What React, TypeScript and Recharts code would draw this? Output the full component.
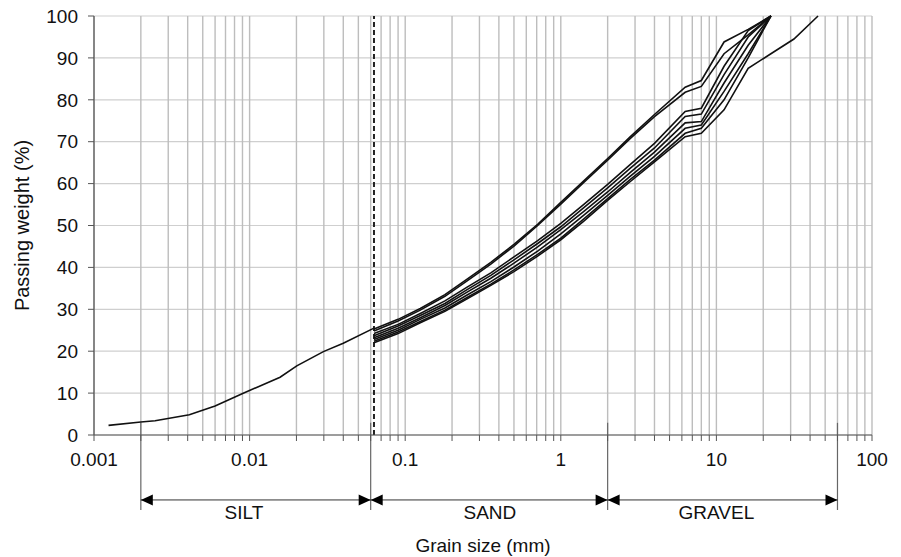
import React from 'react';
import { ComposedChart, Line, XAxis, YAxis, CartesianGrid, ReferenceLine, ReferenceDot } from 'recharts';

// ---- axis definitions ----
const decades = [0.001, 0.01, 0.1, 1, 10];
const multipliers = [1, 2, 3, 4, 5, 6, 7, 8, 9];
const xMax = 100;
const decadeLabels = ['0.001', '0.01', '0.1', '1', '10', '100'];
const yMajorTicks = [0, 10, 20, 30, 40, 50, 60, 70, 80, 90, 100];
const yMinorTicks = [0, 2, 4, 6, 8, 10, 12, 14, 16, 18, 20, 22, 24, 26, 28, 30, 32, 34, 36, 38, 40, 42, 44, 46, 48, 50, 52, 54, 56, 58, 60, 62, 64, 66, 68, 70, 72, 74, 76, 78, 80, 82, 84, 86, 88, 90, 92, 94, 96, 98, 100];

// ---- silt (hydrometer) curve ----
const siltSizes = [0.00124, 0.002, 0.00247, 0.0041, 0.006, 0.0091, 0.0157, 0.0201, 0.0298, 0.04, 0.063];
const siltPassing = [2.3, 3.1, 3.4, 4.85, 6.9, 9.95, 13.8, 16.5, 19.9, 21.9, 25.5];

// ---- sieve curves ----
const sieveSizes = [0.063, 0.09, 0.125, 0.18, 0.25, 0.355, 0.5, 0.71, 1, 1.4, 2, 2.8, 4, 6.3, 8, 11.2, 16, 22.4];
const coarseSizes = [0.063, 0.09, 0.125, 0.18, 0.25, 0.355, 0.5, 0.71, 1, 1.4, 2, 2.8, 4, 6.3, 8, 11.2, 16, 22.4, 31.5, 45];

const sampleU1 = [25.3, 27.6, 30.2, 33.5, 37.2, 41.2, 45.5, 50.3, 55.5, 60.6, 66, 71.2, 76.5, 83, 84.6, 93.8, 96.8, 100];
const sampleU2 = [24.8, 27.2, 29.8, 33.1, 36.8, 40.8, 45.1, 50, 55.1, 60.2, 65.6, 70.8, 76, 81.8, 83.2, 91, 95.5, 100];
const sampleL1 = [24.2, 26.4, 29, 32, 35.3, 38.7, 42.5, 46.4, 50.5, 55, 59.8, 64.6, 69.6, 77.2, 78, 88, 96.5, 100];
const sampleL2 = [23.7, 26, 28.5, 31.4, 34.7, 38.1, 41.8, 45.7, 49.7, 54.2, 59, 63.7, 68.5, 76, 76.6, 86, 95, 100];
const sampleL3 = [23.2, 25.5, 28, 30.9, 34.1, 37.4, 41, 44.9, 49, 53.3, 58, 62.7, 67.5, 74.5, 74.8, 84, 93, 100];
const sampleL4 = [22.8, 25, 27.6, 30.3, 33.4, 36.6, 40.1, 43.9, 48, 52.4, 57.2, 61.8, 66.5, 73.2, 74, 82, 91, 100];
const sampleL5 = [22.4, 24.6, 27.1, 29.8, 32.8, 36, 39.4, 43.1, 47, 51.5, 56.4, 61, 65.6, 72, 73.2, 80, 90, 100];
const sampleO = [22, 24.2, 26.8, 29.5, 32.5, 35.7, 39, 42.7, 46.6, 51, 56, 60.5, 65.2, 71.2, 72, 77.6, 87.5, 91, 94.5, 100];

// ---- soil classes ----
const zoneBounds = [0.002, 0.06, 2, 60];
const zoneNames = ['SILT', 'SAND', 'GRAVEL'];
const zoneLabelAt = [0.0092, 0.35, 10];
const sandSiltLimit = 0.063;

// levels below the axis (in % units of the y scale)
const boundTop = 2.9;
const boundBottom = -17.9;
const arrowLevel = -15.5;
const labelLevel = -18.6;

const FONT = '"Liberation Sans", Arial, Helvetica, sans-serif';

const toPoints = (sizes: number[], vals: number[]) => vals.map((p, i) => ({ d: sizes[i], p }));

const sieveSeries = [
  toPoints(sieveSizes, sampleU1),
  toPoints(sieveSizes, sampleU2),
  toPoints(sieveSizes, sampleL1),
  toPoints(sieveSizes, sampleL2),
  toPoints(sieveSizes, sampleL3),
  toPoints(sieveSizes, sampleL4),
  toPoints(sieveSizes, sampleL5),
  toPoints(coarseSizes, sampleO),
];
const siltSeries = toPoints(siltSizes, siltPassing);

const xTicks = decades
  .flatMap((d) => multipliers.map((m) => +(d * m).toPrecision(6)))
  .concat([xMax]);

const XTick = (props: any) => {
  const { x, y, payload } = props;
  const v = payload.value;
  const lg = Math.log10(v);
  if (Math.abs(lg - Math.round(lg)) > 1e-6) return <g />;
  const label = decadeLabels[Math.round(lg) + 3];
  return (
    <text x={x} y={y} dy="0.71em" textAnchor="middle" fill="#111" fontSize={19} fontFamily={FONT}>
      {label}
    </text>
  );
};

const ArrowShape = (p: any) => {
  const { x1, y1, x2, y2 } = p;
  const h = 12;
  const w = 5.5;
  return (
    <g>
      <line x1={x1} y1={y1} x2={x2} y2={y2} stroke="#333" strokeWidth={1} />
      <polygon points={`${x1},${y1} ${x1 + h},${y1 - w} ${x1 + h},${y1 + w}`} fill="#000" />
      <polygon points={`${x2},${y2} ${x2 - h},${y2 - w} ${x2 - h},${y2 + w}`} fill="#000" />
    </g>
  );
};

const zoneLabelShape = (name: string) => (p: any) => (
  <text x={p.cx} y={p.cy} textAnchor="middle" dominantBaseline="central" fill="#111" fontSize={19} fontFamily={FONT}>
    {name}
  </text>
);

export default function App() {
  return (
    <div style={{ position: 'absolute', left: 0, top: 0, fontFamily: FONT, background: '#fff' }}>
      <ComposedChart width={901} height={557} margin={{ top: 16, right: 29, left: 34, bottom: 92 }}>
        <CartesianGrid horizontal={true} vertical={false} stroke="#cfcfcf" strokeWidth={1.2} />
        <CartesianGrid horizontal={false} vertical={true} stroke="#bdbdbd" strokeWidth={1.4} />
        <XAxis
          type="number"
          dataKey="d"
          scale="log"
          domain={[0.001, 100]}
          allowDataOverflow
          ticks={xTicks}
          interval={0}
          tick={XTick}
          tickSize={6}
          tickMargin={12}
          height={30}
          stroke="#555"
          axisLine={{ stroke: '#555', strokeWidth: 1.2 }}
          tickLine={{ stroke: '#555', strokeWidth: 1 }}
          label={{ value: 'Grain size (mm)', position: 'bottom', offset: 74, fill: '#111', fontSize: 19, fontFamily: FONT }}
        />
        <YAxis
          type="number"
          domain={[0, 100]}
          ticks={yMajorTicks}
          interval={0}
          width={60}
          tickSize={6}
          tickMargin={10}
          axisLine={{ stroke: '#555', strokeWidth: 1.2 }}
          tickLine={{ stroke: '#555', strokeWidth: 1 }}
          tick={{ fill: '#111', fontSize: 19, fontFamily: FONT }}
          label={{ value: 'Passing weight (%)', angle: -90, position: 'insideLeft', offset: -12, style: { textAnchor: 'middle' }, fill: '#111', fontSize: 20, fontFamily: FONT }}
        />
        <YAxis
          yAxisId="minor"
          type="number"
          domain={[0, 100]}
          ticks={yMinorTicks}
          interval={0}
          width={0}
          mirror
          tick={false}
          tickSize={5}
          axisLine={false}
          tickLine={{ stroke: '#555', strokeWidth: 1 }}
        />

        <ReferenceLine x={sandSiltLimit} stroke="#222" strokeWidth={2} strokeDasharray="5 3" ifOverflow="visible" />

        {zoneBounds.map((b) => (
          <ReferenceLine
            key={`b${b}`}
            segment={[{ x: b, y: boundTop }, { x: b, y: boundBottom }]}
            stroke="#666"
            strokeWidth={1.2}
            ifOverflow="visible"
          />
        ))}
        {zoneNames.map((n, i) => (
          <ReferenceLine
            key={`a${n}`}
            segment={[{ x: zoneBounds[i], y: arrowLevel }, { x: zoneBounds[i + 1], y: arrowLevel }]}
            ifOverflow="visible"
            shape={ArrowShape}
          />
        ))}
        {zoneNames.map((n, i) => (
          <ReferenceDot key={`l${n}`} x={zoneLabelAt[i]} y={labelLevel} r={0} ifOverflow="visible" shape={zoneLabelShape(n)} />
        ))}

        <Line data={siltSeries} dataKey="p" type="linear" stroke="#111" strokeWidth={1.6} dot={false} activeDot={false} isAnimationActive={false} />
        {sieveSeries.map((s, i) => (
          <Line
            key={`s${i}`}
            data={s}
            dataKey="p"
            type="linear"
            stroke="#111"
            strokeWidth={1.6}
            dot={false}
            activeDot={false}
            isAnimationActive={false}
          />
        ))}
      </ComposedChart>
    </div>
  );
}
